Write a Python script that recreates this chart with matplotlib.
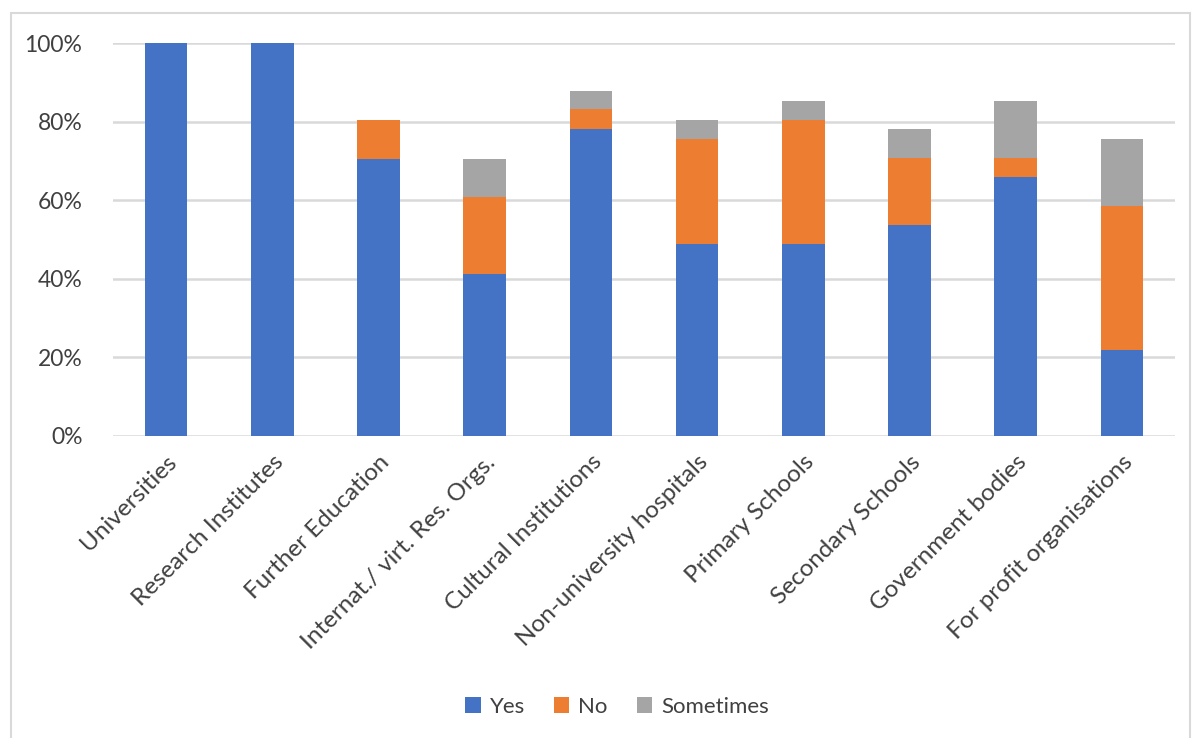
import matplotlib
matplotlib.use("Agg")
import matplotlib.pyplot as plt
from matplotlib.patches import Rectangle
import numpy as np

categories = ["Universities", "Research Institutes", "Further Education",
              "Internat./ virt. Res. Orgs.", "Cultural Institutions",
              "Non-university hospitals", "Primary Schools", "Secondary Schools",
              "Government bodies", "For profit organisations"]
yes = [100.0, 100.0, 70.6, 41.3, 78.1, 48.9, 48.9, 53.7, 65.8, 22.0]
no = [0.0, 0.0, 9.8, 19.6, 5.0, 26.7, 31.5, 17.0, 4.9, 36.6]
sometimes = [0.0, 0.0, 0.0, 9.7, 4.7, 4.8, 4.8, 7.4, 14.5, 16.9]
series_names = ["Yes", "No", "Sometimes"]
colors = ["#4472C4", "#ED7D31", "#A5A5A5"]
yticks = [0, 20, 40, 60, 80, 100]

plt.rcParams["font.family"] = ["Lato", "DejaVu Sans"]

fig = plt.figure(figsize=(12.03, 7.38), dpi=100)
ax = fig.add_axes([113 / 1203, 1 - 436 / 738, (1175 - 113) / 1203, (436 - 43) / 738])

x = np.arange(len(categories))
yes_a = np.array(yes)
no_a = np.array(no)
some_a = np.array(sometimes)
w = 0.4
ax.bar(x, yes_a, w, color=colors[0], label=series_names[0], zorder=3)
ax.bar(x, no_a, w, bottom=yes_a, color=colors[1], label=series_names[1], zorder=3)
ax.bar(x, some_a, w, bottom=yes_a + no_a, color=colors[2], label=series_names[2], zorder=3)

ax.set_xlim(-0.5, len(categories) - 0.5)
ax.set_ylim(0, 100)
ax.set_yticks(yticks)
ax.set_yticklabels([f"{t}%" for t in yticks])
ax.yaxis.grid(True, color="#d9d9d9", linewidth=1.8, zorder=0)
ax.set_axisbelow(True)
for s in ax.spines.values():
    s.set_visible(False)
ax.tick_params(axis="both", length=0, labelcolor="#404040")
ax.tick_params(axis="y", pad=22, labelsize=16.5)
ax.set_xticks(x)
ax.set_xticklabels(categories, rotation=45, ha="right", rotation_mode="anchor")
ax.tick_params(axis="x", pad=11, labelsize=17.5)

leg = fig.legend(loc="center", bbox_to_anchor=(617 / 1203, 1 - 707 / 738), ncol=3,
                 frameon=False, fontsize=16, handlelength=0.7, handleheight=0.7,
                 handletextpad=0.4, columnspacing=1.3, labelcolor="#404040")

# chart area border
fig.patches.append(Rectangle((11 / 1203, -0.01), (1190 - 11) / 1203, 1 - 13 / 738 + 0.01,
                             transform=fig.transFigure, fill=False,
                             edgecolor="#d9d9d9", linewidth=1.5))

fig.savefig("out.png", dpi=100, facecolor="white")
